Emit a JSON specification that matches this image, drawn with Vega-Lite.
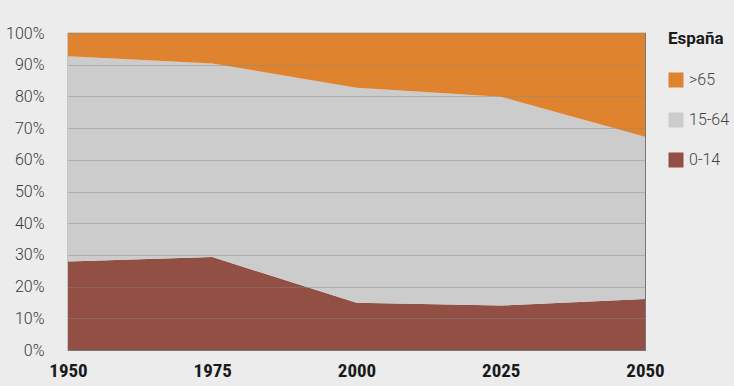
{
  "$schema": "https://vega.github.io/schema/vega-lite/v6.json",
  "width": 577,
  "height": 317,
  "autosize": "none",
  "padding": {"left": 68, "top": 33, "right": 89, "bottom": 36},
  "background": "#ececec",
  "config": {
    "view": {"stroke": "#6b6b6b", "strokeWidth": 1.2},
    "font": "Roboto"
  },
  "data": {
    "values": [
      {"year": 1950, "grupo": "0-14", "k": 1, "pct": 27.9},
      {"year": 1950, "grupo": "15-64", "k": 2, "pct": 64.8},
      {"year": 1950, "grupo": ">65", "k": 3, "pct": 7.3},
      {"year": 1975, "grupo": "0-14", "k": 1, "pct": 29.3},
      {"year": 1975, "grupo": "15-64", "k": 2, "pct": 61.1},
      {"year": 1975, "grupo": ">65", "k": 3, "pct": 9.6},
      {"year": 2000, "grupo": "0-14", "k": 1, "pct": 14.9},
      {"year": 2000, "grupo": "15-64", "k": 2, "pct": 67.8},
      {"year": 2000, "grupo": ">65", "k": 3, "pct": 17.3},
      {"year": 2025, "grupo": "0-14", "k": 1, "pct": 14.0},
      {"year": 2025, "grupo": "15-64", "k": 2, "pct": 65.9},
      {"year": 2025, "grupo": ">65", "k": 3, "pct": 20.1},
      {"year": 2050, "grupo": "0-14", "k": 1, "pct": 16.1},
      {"year": 2050, "grupo": "15-64", "k": 2, "pct": 51.2},
      {"year": 2050, "grupo": ">65", "k": 3, "pct": 32.7}
    ]
  },
  "mark": {"type": "area", "interpolate": "linear"},
  "encoding": {
    "x": {
      "field": "year",
      "type": "quantitative",
      "scale": {"domain": [1950, 2050], "nice": false, "zero": false},
      "axis": {
        "title": null,
        "values": [1950, 1975, 2000, 2025, 2050],
        "format": "d",
        "grid": false,
        "ticks": false,
        "domain": false,
        "labelFont": "Liberation Sans Narrow, Roboto Condensed, Roboto",
        "labelFontWeight": "bold",
        "labelFontSize": 19,
        "labelColor": "#1a1a1a",
        "labelPadding": 11,
        "labelFlush": false
      }
    },
    "y": {
      "field": "pct",
      "type": "quantitative",
      "stack": "zero",
      "scale": {"domain": [0, 100], "nice": false},
      "axis": {
        "title": null,
        "values": [0, 10, 20, 30, 40, 50, 60, 70, 80, 90, 100],
        "labelExpr": "datum.value + '%'",
        "ticks": false,
        "domain": false,
        "grid": true,
        "gridColor": "#888888",
        "gridOpacity": 0.45,
        "gridWidth": 1,
        "zindex": 1,
        "labelFont": "Roboto",
        "labelFontWeight": 300,
        "labelFontSize": 16,
        "labelColor": "#3a3a3a",
        "labelPadding": 24
      }
    },
    "color": {
      "field": "grupo",
      "type": "nominal",
      "scale": {
        "domain": [">65", "15-64", "0-14"],
        "range": ["#e0832e", "#cccccc", "#924f43"]
      },
      "legend": {
        "title": "España",
        "orient": "none",
        "legendX": 600,
        "legendY": -2,
        "titleFont": "Roboto",
        "titleFontSize": 17,
        "titleFontWeight": "bold",
        "titleColor": "#1a1a1a",
        "titlePadding": 24,
        "symbolType": "square",
        "symbolSize": 225,
        "symbolStrokeWidth": 0,
        "symbolOpacity": 1,
        "labelFont": "Roboto",
        "labelFontWeight": 300,
        "labelFontSize": 16,
        "labelColor": "#444444",
        "labelOffset": 5,
        "rowPadding": 24,
        "padding": 0
      }
    },
    "order": {"field": "k", "type": "quantitative"}
  }
}
